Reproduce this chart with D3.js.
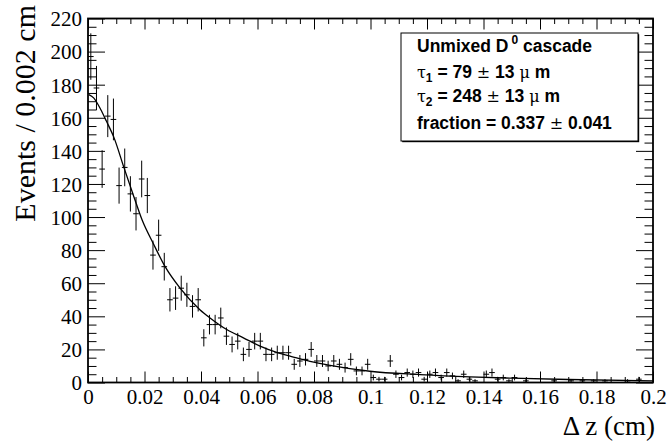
<!DOCTYPE html>
<html><head><meta charset="utf-8">
<script src="https://cdn.jsdelivr.net/npm/d3@7/dist/d3.min.js"></script>
<style>body{margin:0;background:#fff}svg{display:block}</style>
</head><body>
<svg id="c" width="667" height="441"></svg>
<script>
// bin contents, bin width 0.002 cm, 0..0.2 cm
const counts = [197,178,129,161,159,119,130,114,102,123,
                113,77,89,70,50,51,57,53,46,50,
                27,35,35,39,28,23,25,17,20,25,
                25,17,17,18,18,18,11,13,14,20,
                13,13,10,13,11,9,14,7,7,11,
                3,2,2,13,5,3,6,5,6,2,
                5,6,3,6,4,1,5,2,1,0,
                5,6,2,3,1,3,0,1,0,0,
                0,0,1,0,0,1,0,1,0,1,
                0,1,0,0,0,1,0,2,0,0];
const binWidth = 0.002;
// fit curve
const fitX = [0.0003,0.002,0.0045,0.0065,0.0092,0.0127,0.0163,0.0192,0.0231,0.0273,0.0326,0.0396,0.0432,0.0491,0.055,0.0609,0.0668,0.0727,0.0786,0.0857,0.0998,0.1175,0.1352,0.15,0.17,0.2];
const fitY = [174,172,165,158,148,130,112,98,84,70,57,44,39,32,27,22,18.2,15.4,12.8,10.4,6.8,4.8,3.4,2.6,1.8,1.0];
const xMajor = [0,0.02,0.04,0.06,0.08,0.1,0.12,0.14,0.16,0.18,0.2];
const xLabels = ["0","0.02","0.04","0.06","0.08","0.1","0.12","0.14","0.16","0.18","0.2"];
const yMajor = [0,20,40,60,80,100,120,140,160,180,200,220];

const svg = d3.select("#c");
const L=88,R=653,T=18.5,B=382.5;
const x = d3.scaleLinear().domain([0,0.2]).range([L,R]);
const y = d3.scaleLinear().domain([0,220]).range([B,T]);
const xMinor = d3.range(0,0.2001,0.005).filter(v=>Math.abs(v/0.02-Math.round(v/0.02))>1e-6);
const yMinor = d3.range(0,221,5).filter(v=>v%20!==0);

svg.append("rect").attr("width",667).attr("height",441).attr("fill","#fff");

function axisG(axis, tx, ty){
  const g = svg.append("g").attr("transform",`translate(${tx},${ty})`).call(axis);
  g.select(".domain").remove();
  g.selectAll("line").attr("stroke","#000").attr("stroke-width",1);
  return g;
}
// bottom
const gb = axisG(d3.axisBottom(x).tickValues(xMajor).tickSize(-11).tickFormat((d,i)=>xLabels[i]).tickPadding(6), 0, B);
gb.selectAll("text").attr("font-family","Liberation Serif, Times New Roman, serif").attr("font-size",21).attr("fill","#000").attr("dy",null).attr("y",21);
axisG(d3.axisBottom(x).tickValues(xMinor).tickSize(-5.5).tickFormat(""), 0, B);
// top
axisG(d3.axisTop(x).tickValues(xMajor).tickSize(-11).tickFormat(""), 0, T);
axisG(d3.axisTop(x).tickValues(xMinor).tickSize(-5.5).tickFormat(""), 0, T);
// left
const gl = axisG(d3.axisLeft(y).tickValues(yMajor).tickSize(-17).tickPadding(7), L, 0);
gl.selectAll("text").attr("font-family","Liberation Serif, Times New Roman, serif").attr("font-size",21).attr("fill","#000").attr("x",-6).attr("dy","0.35em");
axisG(d3.axisLeft(y).tickValues(yMinor).tickSize(-8.5).tickFormat(""), L, 0);
// right
axisG(d3.axisRight(y).tickValues(yMajor).tickSize(-17).tickFormat(""), R, 0);
axisG(d3.axisRight(y).tickValues(yMinor).tickSize(-8.5).tickFormat(""), R, 0);

svg.append("rect").attr("x",L).attr("y",T).attr("width",R-L).attr("height",B-T)
  .attr("fill","none").attr("stroke","#000").attr("stroke-width",1.8);

// data points
const pts = counts.map((c,i)=>({lo:i*binWidth, hi:(i+1)*binWidth, c, e:Math.sqrt(c)})).filter(d=>d.c>0);
const gp = svg.append("g").attr("stroke","#000").attr("stroke-width",1);
gp.selectAll(".h").data(pts).join("line")
  .attr("x1",d=>x(d.lo)).attr("x2",d=>x(d.hi)).attr("y1",d=>y(d.c)).attr("y2",d=>y(d.c));
gp.selectAll(".v").data(pts).join("line")
  .attr("x1",d=>x((d.lo+d.hi)/2)).attr("x2",d=>x((d.lo+d.hi)/2))
  .attr("y1",d=>y(d.c+d.e)).attr("y2",d=>y(Math.max(0,d.c-d.e)));

// fit curve
const line = d3.line().x((d,i)=>x(fitX[i])).y((d,i)=>y(fitY[i])).curve(d3.curveMonotoneX);
svg.append("path").attr("d",line(fitY)).attr("fill","none").attr("stroke","#000").attr("stroke-width",1.3);

// axis titles
svg.append("text").attr("transform","translate(35,5) rotate(-90)").attr("text-anchor","end")
  .attr("font-family","Liberation Serif, Times New Roman, serif").attr("font-size",30).text("Events / 0.002 cm");
svg.append("text").attr("x",655).attr("y",435).attr("text-anchor","end")
  .attr("font-family","Liberation Serif, Times New Roman, serif").attr("font-size",27).text("Δ z (cm)");

// legend box
const lx=401, ly=33, lw=237, lh=108;
svg.append("rect").attr("x",lx+1.2).attr("y",ly+1.2).attr("width",lw).attr("height",lh).attr("fill","#000");
svg.append("rect").attr("x",lx).attr("y",ly).attr("width",lw).attr("height",lh).attr("fill","#fff").attr("stroke","#000").attr("stroke-width",1);
const lg = svg.append("g").attr("font-family","Liberation Sans, Arial, sans-serif").attr("font-weight","bold").attr("font-size",17.5).attr("fill","#000");
const base=[51.7,78.3,102.3,129];
// line 1
let t = lg.append("text").attr("x",417).attr("y",base[0]);
t.append("tspan").text("Unmixed D");
t.append("tspan").attr("font-size",12).attr("dy",-8).attr("dx",3).text("0");
t.append("tspan").attr("dy",8).text(" cascade");
// line 2,3
[[1,"1","79"],[2,"2","248"]].forEach(([k,s,v])=>{
  const tt = lg.append("text").attr("x",417).attr("y",base[k]);
  tt.append("tspan").attr("font-weight","normal").attr("font-family","DejaVu Serif, serif").attr("font-size",16).text("τ");
  tt.append("tspan").attr("font-size",12).attr("dy",4).text(s);
  tt.append("tspan").attr("dy",-4).text(" = "+v+" ");
  tt.append("tspan").attr("font-weight","normal").attr("font-family","DejaVu Serif, serif").attr("font-size",16).text("±");
  tt.append("tspan").text(" 13 ");
  tt.append("tspan").attr("font-weight","normal").attr("font-family","DejaVu Serif, serif").attr("font-size",16).text("μ");
  tt.append("tspan").text(" m");
});
t = lg.append("text").attr("x",417).attr("y",base[3]);
t.append("tspan").text("fraction = 0.337  ");
t.append("tspan").attr("font-weight","normal").attr("font-family","DejaVu Serif, serif").attr("font-size",16).text("±");
t.append("tspan").text(" 0.041");
</script>
</body></html>
